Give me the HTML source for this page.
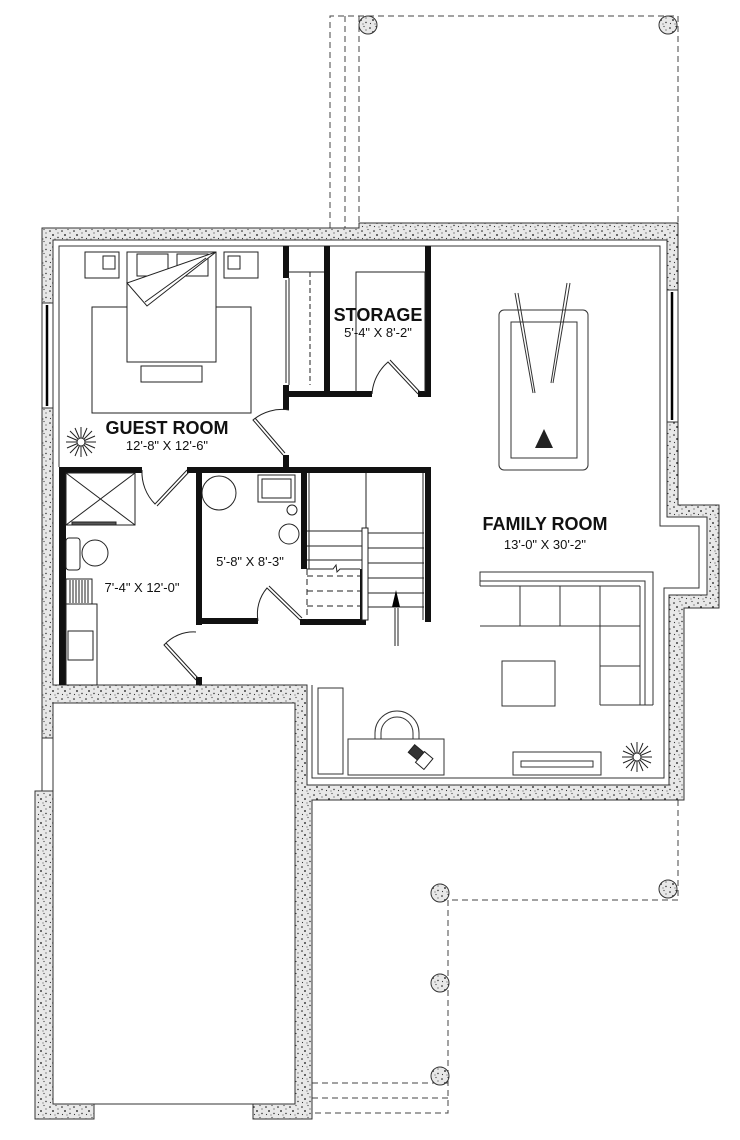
<!DOCTYPE html>
<html><head><meta charset="utf-8"><style>
html,body{margin:0;padding:0;background:#fff}
svg{display:block}
text{font-family:"Liberation Sans",Arial,sans-serif;fill:#111}
</style></head><body>
<svg width="740" height="1140" viewBox="0 0 740 1140" xmlns="http://www.w3.org/2000/svg">
<defs>
<pattern id="c" width="12" height="12" patternUnits="userSpaceOnUse">
<rect width="12" height="12" fill="#e8e8e8"/>
<circle cx="2" cy="3" r="0.8" fill="#111"/><circle cx="8" cy="1.5" r="0.6" fill="#333"/>
<circle cx="5" cy="7" r="0.9" fill="#111"/><circle cx="10" cy="9.5" r="0.7" fill="#222"/>
<circle cx="2.5" cy="10.5" r="0.6" fill="#333"/><circle cx="10" cy="5" r="0.6" fill="#444"/>
<circle cx="7" cy="11" r="0.5" fill="#222"/>
</pattern>
<g id="plant" stroke="#222" stroke-width="1" fill="none">
<path d="M0,-15 L0,15 M-15,0 L15,0 M-11,-11 L11,11 M-11,11 L11,-11 M-6,-14 L6,14 M-14,-6 L14,6 M-14,6 L14,-6 M-6,14 L6,-14"/>
<circle r="4" fill="#fff"/>
</g>
<g id="post"><circle r="9" fill="url(#c)" stroke="#333" stroke-width="1"/></g>
</defs>

<g stroke="#444" stroke-width="1" fill="none" stroke-dasharray="6,4">
<path d="M330,228 L330,16 L678,16 L678,223"/>
<path d="M345,16 L345,228 M359,16 L359,223"/>
<path d="M678,800 L678,900 L448,900 L448,1113 L312,1113"/>
<path d="M312,1083 L448,1083 M312,1098 L448,1098"/>
</g>
<use href="#post" x="368" y="25"/><use href="#post" x="668" y="25"/>
<use href="#post" x="440" y="893"/><use href="#post" x="668" y="889"/>
<use href="#post" x="440" y="983"/><use href="#post" x="440" y="1076"/>

<g fill="url(#c)" stroke="#333" stroke-width="1">
<path d="M42,228 L359,228 L359,223 L678,223 L678,505 L719,505 L719,608 L684,608 L684,800 L312,800 L312,1119 L253,1119 L253,1104 L295,1104 L295,703 L53,703 L53,738 L42,738 Z M53,240 L53,685 L307,685 L307,785 L669,785 L669,595 L707,595 L707,517 L667,517 L667,240 Z" fill-rule="evenodd"/>
<path d="M35,791 L53,791 L53,1104 L94,1104 L94,1119 L35,1119 Z"/>
</g>
<rect x="42" y="303" width="11" height="105" fill="#fff" stroke="#333"/>
<line x1="47" y1="305" x2="47" y2="406" stroke="#000" stroke-width="2.5"/>
<rect x="667" y="290" width="11" height="132" fill="#fff" stroke="#333"/>
<line x1="672" y1="292" x2="672" y2="420" stroke="#000" stroke-width="2.5"/>
<path d="M42,738 L42,791 M53,738 L53,791" stroke="#333"/>

<g stroke="#333" stroke-width="1" fill="none">
<path d="M59,467 L59,246 L660,246 L660,526 L699,526 L699,588 L664,588 L664,778 L312,778 L312,685"/>
<rect x="53" y="703" width="242" height="401"/>
</g>

<g fill="#111">
<rect x="283" y="246" width="6" height="32"/><rect x="283" y="385" width="6" height="25"/>
<rect x="324" y="246" width="6" height="146"/><rect x="425" y="246" width="6" height="151"/>
<rect x="289" y="391" width="83" height="6"/><rect x="418" y="391" width="13" height="6"/>
<rect x="283" y="455" width="6" height="13"/>
<rect x="59" y="467" width="83" height="6"/><rect x="187" y="467" width="244" height="6"/>
<rect x="59" y="467" width="7" height="218"/>
<rect x="196" y="473" width="6" height="152"/>
<rect x="196" y="618" width="62" height="6"/><rect x="300" y="619" width="66" height="6"/>
<rect x="301" y="473" width="6" height="96"/><rect x="360" y="569" width="6" height="55"/>
<rect x="425" y="467" width="6" height="155"/>
<rect x="196" y="677" width="6" height="8"/>
</g>

<g stroke="#222" stroke-width="1" fill="none">
<path d="M289,278 L289,385 M286,280 L286,383 M289,272 L324,272" />
<path d="M310,272 L310,385" stroke-dasharray="5,3"/>
<path d="M356,392 L356,272 L425,272 L425,392"/>
<path d="M372,394 A46,46 0 0 1 388,362 L418,394"/><path d="M390,360 L420,392"/>
<path d="M289,410 A45,45 0 0 0 253,420 L283,455 M255,418 L285,453"/>
<path d="M142,470 A45,45 0 0 0 155,504 L187,470 M157,506 L189,472"/>
<path d="M258,621 A40,40 0 0 1 267,588 L300,620 M269,586 L302,618"/>
<path d="M196,632 A40,40 0 0 0 164,645 L196,680 M166,643 L198,678"/>
</g>

<g stroke="#222" stroke-width="1" fill="#fff">
<rect x="92" y="307" width="159" height="106"/>
<rect x="85" y="252" width="34" height="26"/><rect x="103" y="256" width="12" height="13"/>
<rect x="224" y="252" width="34" height="26"/><rect x="228" y="256" width="12" height="13"/>
<rect x="127" y="252" width="89" height="110"/>
<rect x="137" y="254" width="31" height="22"/><rect x="177" y="254" width="31" height="22"/>
<path d="M216,252 L127,283 L147,306 Z"/><path d="M145,302 L206,258" fill="none"/>
<rect x="141" y="366" width="61" height="16"/>
</g>
<use href="#plant" x="81" y="442"/>
<text x="167" y="434" font-size="18" font-weight="bold" text-anchor="middle">GUEST ROOM</text>
<text x="167" y="450" font-size="13" text-anchor="middle">12'-8" X 12'-6"</text>
<text x="378" y="321" font-size="18" font-weight="bold" text-anchor="middle">STORAGE</text>
<text x="378" y="337" font-size="13" text-anchor="middle">5'-4" X 8'-2"</text>

<g stroke="#222" stroke-width="1" fill="#fff">
<rect x="66" y="473" width="69" height="52"/><path d="M66,473 L135,525 M135,473 L66,525" fill="none"/>
<rect x="72" y="522" width="44" height="3" fill="#555"/>
<rect x="66" y="538" width="14" height="32" rx="3"/><circle cx="95" cy="553" r="13"/>
<rect x="66" y="579" width="26" height="25"/>
<path d="M70,580 V603 M73,580 V603 M76,580 V603 M79,580 V603 M82,580 V603 M85,580 V603 M88,580 V603" fill="none"/>
<rect x="66" y="604" width="31" height="81"/><rect x="68" y="631" width="25" height="29"/>
</g>
<text x="142" y="592" font-size="13" text-anchor="middle">7'-4" X 12'-0"</text>

<g stroke="#222" stroke-width="1" fill="#fff">
<circle cx="219" cy="493" r="17"/>
<rect x="258" y="475" width="37" height="27"/><rect x="262" y="479" width="29" height="19"/>
<circle cx="292" cy="510" r="5"/><circle cx="289" cy="534" r="10"/>
</g>
<text x="250" y="566" font-size="13" text-anchor="middle">5'-8" X 8'-3"</text>

<g stroke="#222" stroke-width="1" fill="none">
<path d="M309,473 V569 M423,473 V620 M366,473 V528"/>
<rect x="362" y="528" width="6" height="92" fill="#fff"/>
<path d="M307,531 H362 M307,546 H362 M307,560 H362"/>
<path d="M368,533 H424 M368,548 H424 M368,563 H424 M368,578 H424 M368,593 H424 M368,607 H424"/>
<path d="M307,569 H333 L336,565 L337,572 L340,569 H360"/>
<path d="M307,569 V620 M307,576 H360 M307,591 H360 M307,606 H360" stroke-dasharray="6,4"/>
<path d="M395,608 V646 M398,608 V646"/>
</g>
<path d="M396,590 L392,607 L400,607 Z" fill="#000"/>

<g stroke="#333" stroke-width="1" fill="#fff">
<rect x="499" y="310" width="89" height="160" rx="5"/>
<rect x="511" y="322" width="66" height="136"/>
<path d="M515,293 L533,393 M518,293 L535,393 M567,283 L551,383 M570,283 L553,383" fill="none"/>
</g>
<path d="M544,429 L553,448 L535,448 Z" fill="#222"/>
<text x="545" y="530" font-size="18" font-weight="bold" text-anchor="middle">FAMILY ROOM</text>
<text x="545" y="549" font-size="13" text-anchor="middle">13'-0" X 30'-2"</text>

<g stroke="#333" stroke-width="1" fill="none">
<path d="M480,586 V572 H653 V705 M480,581 H645 V705 M640,586 V705"/>
<path d="M480,586 H640 M480,626 H600 M520,586 V626 M560,586 V626 M600,586 V705 M600,626 H640 M600,666 H640 M600,705 H653"/>
<rect x="502" y="661" width="53" height="45"/>
<rect x="318" y="688" width="25" height="86"/>
<rect x="348" y="739" width="96" height="36"/>
<path d="M375,739 V733 A22,22 0 0 1 419,733 V739 M381,739 V733 A16,16 0 0 1 413,733 V739"/>
<rect x="513" y="752" width="88" height="23"/><rect x="521" y="761" width="72" height="6"/>
</g>
<g transform="translate(420,757) rotate(40)" stroke="#222" fill="#fff">
<rect x="-12" y="-6" width="12" height="10" fill="#333"/>
<rect x="0" y="-7" width="11" height="14"/>
</g>
<use href="#plant" x="637" y="757"/>
</svg>
</body></html>
